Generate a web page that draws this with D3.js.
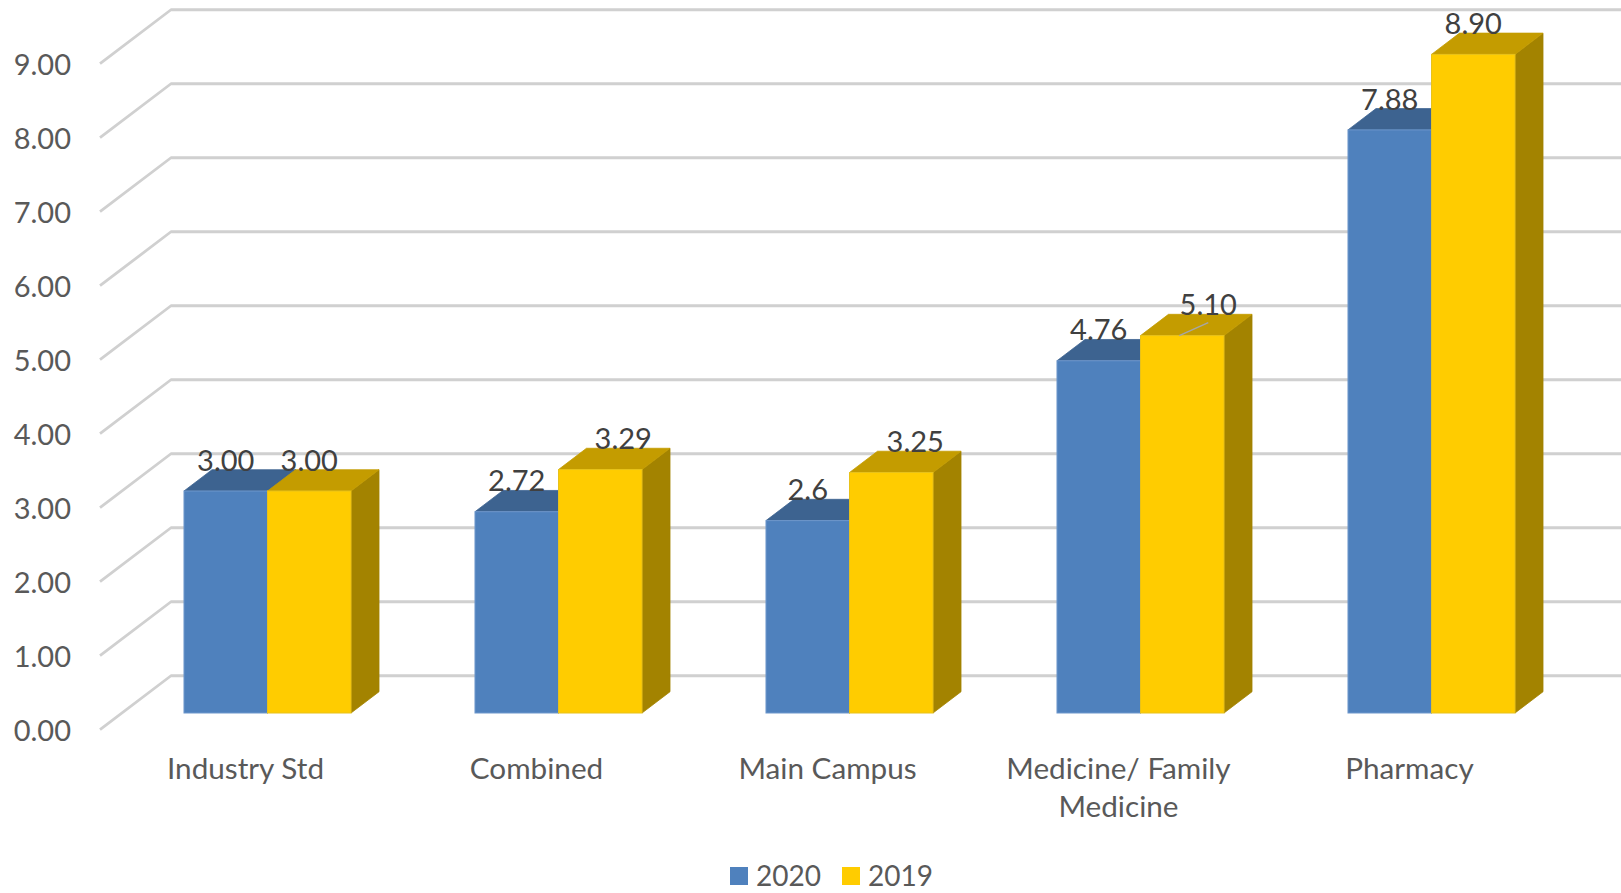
<!DOCTYPE html>
<html>
<head>
<meta charset="utf-8">
<script src="https://cdn.jsdelivr.net/npm/d3@7"></script>
<style>
  html, body { margin: 0; padding: 0; background: #ffffff; }
  svg { display: block; font-family: Lato, "Open Sans", sans-serif; }
</style>
</head>
<body>
<svg id="chart" width="1621" height="893"></svg>
<script>
// ---- data ----
const categories = ["Industry Std", "Combined", "Main Campus", "Medicine/ Family Medicine", "Pharmacy"];
const seriesNames = ["2020", "2019"];
const values2020 = [3.00, 2.72, 2.6, 4.76, 7.88];
const values2019 = [3.00, 3.29, 3.25, 5.10, 8.90];
const labels2020 = ["3.00", "2.72", "2.6", "4.76", "7.88"];
const labels2019 = ["3.00", "3.29", "3.25", "5.10", "8.90"];
const yTicks = [0, 1, 2, 3, 4, 5, 6, 7, 8, 9];

// ---- styles ----
const colors = {
  "2020": { front: "#4F81BD", top: "#3D6390", side: "#3A5F8C", edge: "#6E97CC" },
  "2019": { front: "#FFCC00", top: "#C49C00", side: "#A38300", edge: "#E8C21A" }
};
const labelNudge = { "2019": [0, 23, 24, 26, 0], "2020": [0, 0, 0, 0, 0] };
const leaderFor = { "2019": [false, false, false, true, false], "2020": [false, false, false, false, false] };

const W = 1621, H = 893;
const slope = 0.76;          // oblique depth: dy per dx
const barDepth = 28;         // bar depth (px in x)
const backDepth = 49;        // bar front plane -> back wall (px in x)
const frontDepth = 22;       // bar front plane -> floor front edge (px in x)

const svg = d3.select("#chart");

const y = d3.scaleLinear().domain([0, 9]).range([713, 47]);
const x0 = d3.scaleBand().domain(categories).range([122, 1577]).paddingInner(0.426).paddingOuter(0.213);
const x1 = d3.scaleBand().domain(seriesNames).range([0, x0.bandwidth()]).padding(0);

// ---- gridlines (back wall + side diagonal) ----
const grid = svg.append("g");
yTicks.forEach(v => {
  const fx = 122 - frontDepth, fy = y(v) + frontDepth * slope;
  const bx = 122 + backDepth, by = y(v) - backDepth * slope;
  grid.append("path")
    .attr("d", `M${fx},${fy} L${bx},${by} L${W + 10},${by}`)
    .attr("fill", "none")
    .attr("stroke", "#D0D0D0")
    .attr("stroke-width", 2.8)
    .attr("stroke-linejoin", "round");
});

// ---- y tick labels ----
svg.append("g").selectAll("text").data(yTicks).join("text")
  .attr("x", 71)
  .attr("y", d => y(d) + frontDepth * slope + 1)
  .attr("dy", "0.35em")
  .attr("text-anchor", "end")
  .attr("font-size", 29)
  .attr("fill", "#595959")
  .text(d => d3.format(".2f")(d));

// ---- bars ----
const seriesValues = { "2020": values2020, "2019": values2019 };
const seriesLabels = { "2020": labels2020, "2019": labels2019 };
const dY = barDepth * slope;
const bars = svg.append("g");
categories.forEach((c, i) => {
  seriesNames.forEach(s => {
    const v = seriesValues[s][i];
    const xa = x0(c) + x1(s), xb = xa + x1.bandwidth();
    const yt = y(v), yb = y(0);
    const col = colors[s];
    const g = bars.append("g");
    g.append("path")
      .attr("d", `M${xb},${yt} L${xb + barDepth},${yt - dY} L${xb + barDepth},${yb - dY} L${xb},${yb} Z`)
      .attr("fill", col.side).attr("stroke", col.side).attr("stroke-width", 0.8);
    g.append("path")
      .attr("d", `M${xa},${yt} L${xb},${yt} L${xb + barDepth},${yt - dY} L${xa + barDepth},${yt - dY} Z`)
      .attr("fill", col.top).attr("stroke", col.top).attr("stroke-width", 0.8);
    g.append("rect")
      .attr("x", xa).attr("y", yt)
      .attr("width", xb - xa).attr("height", yb - yt)
      .attr("fill", col.front)
      .attr("stroke", col.edge).attr("stroke-width", 1);
  });
});

// ---- data labels ----
const dl = svg.append("g");
categories.forEach((c, i) => {
  seriesNames.forEach(s => {
    const v = seriesValues[s][i];
    const cx = x0(c) + x1(s) + x1.bandwidth() / 2;
    const lx = cx + labelNudge[s][i];
    const ly = y(v) - dY + 1;
    if (leaderFor[s][i]) {
      dl.append("line")
        .attr("x1", cx - 3).attr("y1", y(v))
        .attr("x2", lx).attr("y2", y(v) - 13)
        .attr("stroke", "#A6A6A6").attr("stroke-width", 1.5);
    }
    dl.append("text")
      .attr("x", lx).attr("y", ly)
      .attr("text-anchor", "middle")
      .attr("font-size", 29)
      .attr("fill", "#404040")
      .text(seriesLabels[s][i]);
  });
});

// ---- category labels (wrapped) ----
const catG = svg.append("g");
categories.forEach(c => {
  const cx = x0(c) + x0.bandwidth() / 2 - frontDepth;
  const t = catG.append("text")
    .attr("x", cx).attr("y", 769)
    .attr("text-anchor", "middle")
    .attr("font-size", 29.7)
    .attr("fill", "#595959");
  const words = c.split(" ");
  let line = [];
  let tspan = t.append("tspan").attr("x", cx).attr("dy", "0.35em");
  words.forEach(w => {
    line.push(w);
    tspan.text(line.join(" "));
    if (tspan.node().getComputedTextLength() > 260 && line.length > 1) {
      line.pop();
      tspan.text(line.join(" "));
      line = [w];
      tspan = t.append("tspan").attr("x", cx).attr("dy", "1.28em").text(w);
    }
  });
});

// ---- legend ----
const legend = svg.append("g");
const legendX = [730, 842];
seriesNames.forEach((s, i) => {
  legend.append("rect")
    .attr("x", legendX[i]).attr("y", 867)
    .attr("width", 18).attr("height", 18)
    .attr("fill", colors[s].front);
  legend.append("text")
    .attr("x", legendX[i] + 26).attr("y", 876)
    .attr("dy", "0.35em")
    .attr("font-size", 28)
    .attr("fill", "#595959")
    .text(s);
});
</script>
</body>
</html>
